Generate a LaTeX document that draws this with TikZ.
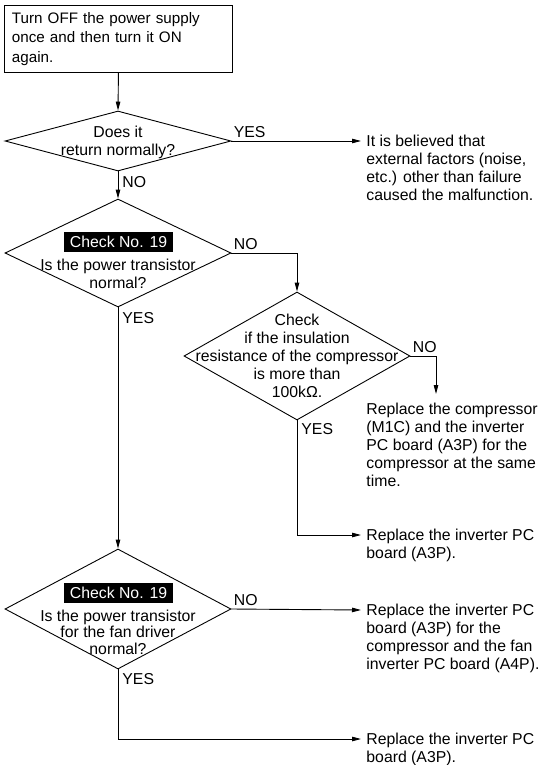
\documentclass[tikz,border=0pt]{standalone}
\usepackage{fontspec}
\setmainfont{Liberation Sans}
\usetikzlibrary{shapes.geometric,arrows.meta}

\begin{document}
\begin{tikzpicture}[x=1pt,y=-1pt,
font=\fontsize{15.8}{18}\selectfont,
line width=0.9pt,
flow/.style = {-{Triangle[length=9pt,width=4.5pt]}},
start-box/.style = {draw, anchor=north west, text width=213pt, align=left,
    inner xsep=7.5pt, inner ysep=7pt, font=\fontsize{15.2}{19.5}\selectfont},
decision/.style = {draw, diamond, inner sep=0pt, minimum width=226pt},
question/.style = {align=center, inner sep=0pt},
check-tag/.style = {fill=black, text=white, inner sep=0pt,
    minimum width=109pt, minimum height=20pt},
answer/.style = {align=left, anchor=north west, inner sep=0pt},
yes-no/.style = {inner sep=0pt}
]
\useasboundingbox (0,0) rectangle (541,765);

\node[start-box] (start) at (4,5) {Turn OFF the power supply\\ once and then turn it ON\\ again.};

\node[decision, minimum height=60pt] (q1) at (118,141) {};
\node[decision, minimum height=108pt] (q2) at (118,253) {};
\node[decision, minimum height=128pt] (q3) at (297,356) {};
\node[decision, minimum height=120pt] (q4) at (118,609) {};

\node[question] (q1-text) at (118,142.5) {Does it\\ return normally?};
\node[check-tag] (q2-tag) at (118.5,242) {Check No. 19};
\node[question] (q2-text) at (118,274) {Is the power transistor\\ normal?};
\node[question] (q3-text) at (297,355.5) {Check\\ if the insulation\\ resistance of the compressor\\ is more than\\ 100kΩ.};
\node[check-tag] (q4-tag) at (118.5,592.5) {Check No. 19};
\node[question, font=\fontsize{15.8}{16.5}\selectfont] (q4-text) at (118,632)
    {Is the power transistor\\ for the fan driver\\ normal?};

\coordinate (tip1) at (361,141);
\coordinate (tip2) at (436,394);
\coordinate (tip3) at (361,535);
\coordinate (tip4) at (361,610);
\coordinate (tip5) at (361,739);

\node[answer] (a1) at ([xshift=5pt,yshift=6pt]tip1) {It is believed that\\ external factors (noise,\\ etc.) other than failure\\ caused the malfunction.};
\node[answer] (a2) at (366,403) {Replace the compressor\\ (M1C) and the inverter\\ PC board (A3P) for the\\ compressor at the same\\ time.};
\node[answer] (a3) at ([xshift=5pt,yshift=6pt]tip3) {Replace the inverter PC\\ board (A3P).};
\node[answer] (a4) at ([xshift=5pt,yshift=6pt]tip4) {Replace the inverter PC\\ board (A3P) for the\\ compressor and the fan\\ inverter PC board (A4P).};
\node[answer] (a5) at ([xshift=5pt,yshift=6pt]tip5) {Replace the inverter PC\\ board (A3P).};

\draw[flow] (start.south) -- (q1.north);
\draw[flow] (q1.east) -- (tip1);
\draw[flow] (q1.south) -- (q2.north);
\draw[flow] (q2.east) -| (q3.north);
\draw[flow] (q3.east) -| (tip2);
\draw[flow] (q3.south) |- (tip3);
\draw[flow] (q2.south) -- (q4.north);
\draw[flow] (q4.east) -- (tip4);
\draw[flow] (q4.south) |- (tip5);

\node[yes-no, anchor=south west] (y1) at ([xshift=2pt,yshift=3pt]q1.east) {YES};
\node[yes-no, anchor=north west] (n1) at ([xshift=4pt,yshift=-5pt]q1.south) {NO};
\node[yes-no, anchor=south west] (n2) at ([xshift=2pt,yshift=3pt]q2.east) {NO};
\node[yes-no, anchor=north west] (y2) at ([xshift=4pt,yshift=-5pt]q2.south) {YES};
\node[yes-no, anchor=south west] (n3) at ([xshift=2pt,yshift=3pt]q3.east) {NO};
\node[yes-no, anchor=north west] (y3) at ([xshift=4pt,yshift=-3pt]q3.south) {YES};
\node[yes-no, anchor=south west] (n4) at ([xshift=2pt,yshift=3pt]q4.east) {NO};
\node[yes-no, anchor=north west] (y4) at ([xshift=4pt,yshift=-4pt]q4.south) {YES};
\end{tikzpicture}
\end{document}
